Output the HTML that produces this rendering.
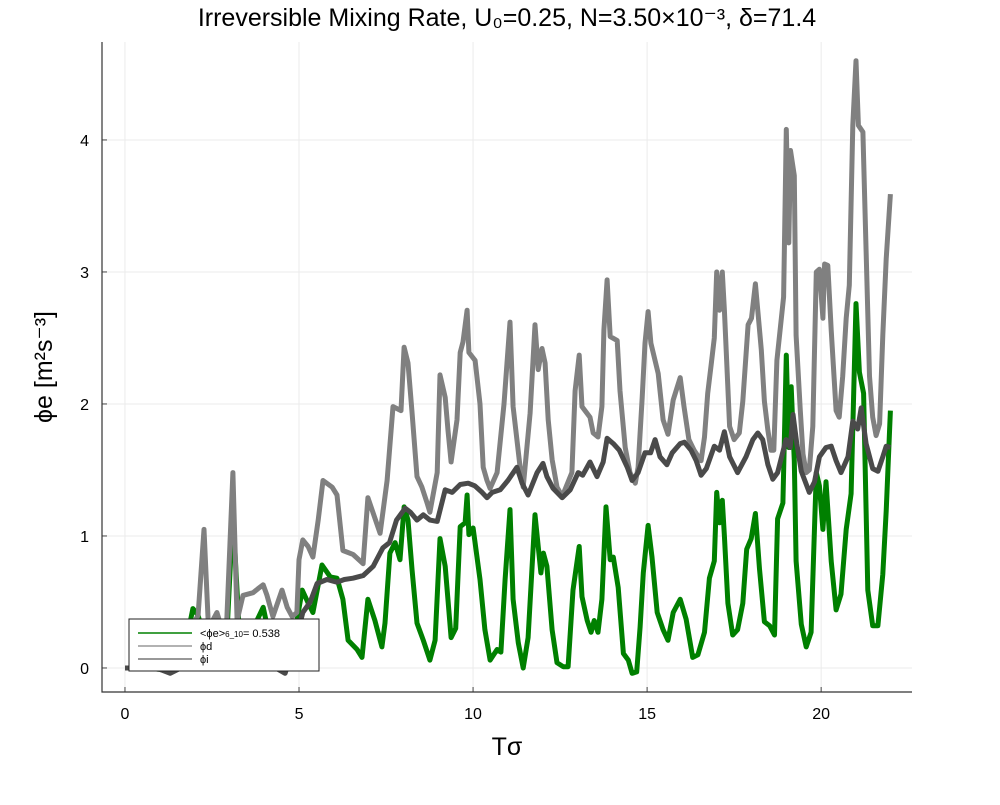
<!DOCTYPE html>
<html><head><meta charset="utf-8"><style>
body{margin:0;background:#fff;}
svg text{font-family:"Liberation Sans","DejaVu Sans",sans-serif;}
</style></head><body>
<svg id="chart" width="1000" height="800" viewBox="0 0 1000 800" xmlns="http://www.w3.org/2000/svg">
<rect width="1000" height="800" fill="#fff"/>
<text x="507" y="26" text-anchor="middle" font-size="25" fill="#000">Irreversible Mixing Rate, U₀=0.25, N=3.50×10⁻³, δ=71.4</text>
<g id="grid"></g>
<g id="series"></g>
<g id="axes"></g>
<text x="507" y="755" text-anchor="middle" font-size="25">Tσ</text>
<text transform="translate(52,367) rotate(-90)" text-anchor="middle" font-size="25">ϕe [m²s⁻³]</text>
<g>
<rect x="129" y="619" width="190" height="52" fill="#fff" stroke="#222" stroke-width="1"/>
<line x1="138" y1="633" x2="192" y2="633" stroke="#008000" stroke-width="1.5"/>
<text x="200" y="637" font-size="11">&lt;ϕe&gt;<tspan font-size="8">6_10</tspan>= 0.538</text>
<line x1="138" y1="646" x2="192" y2="646" stroke="#999" stroke-width="1.5"/>
<text x="200" y="650" font-size="11">ϕd</text>
<line x1="138" y1="659" x2="192" y2="659" stroke="#777" stroke-width="1.5"/>
<text x="200" y="663" font-size="11">ϕi</text>
</g>
</svg>
<script>
const xTicks = [0, 5, 10, 15, 20];
const yTicks = [0, 1, 2, 3, 4];
const tD = [0,0.5,1,1.3,1.6,1.9,2.0,2.1,2.27,2.4,2.64,2.9,3.1,3.22,3.39,3.68,3.82,3.97,4.08,4.25,4.51,4.66,4.8,4.94,5.0,5.11,5.26,5.4,5.55,5.69,5.95,6.09,6.26,6.55,6.84,6.98,7.33,7.53,7.7,7.93,8.02,8.13,8.25,8.39,8.53,8.68,8.76,8.97,9.05,9.2,9.28,9.37,9.54,9.63,9.71,9.83,9.88,10.06,10.2,10.29,10.4,10.49,10.69,10.89,11.06,11.15,11.35,11.44,11.64,11.78,11.87,11.98,12.07,12.16,12.27,12.41,12.56,12.84,12.93,13.05,13.13,13.36,13.45,13.59,13.7,13.76,13.85,13.94,14.14,14.22,14.37,14.51,14.66,14.74,14.86,14.94,15.03,15.11,15.32,15.46,15.6,15.75,15.95,16.06,16.2,16.35,16.55,16.65,16.74,16.84,16.93,17.0,17.08,17.16,17.22,17.37,17.5,17.65,17.75,17.9,18.0,18.11,18.28,18.37,18.47,18.56,18.64,18.73,18.92,19.0,19.07,19.12,19.23,19.28,19.4,19.48,19.57,19.66,19.76,19.86,19.95,20.05,20.1,20.19,20.29,20.43,20.52,20.62,20.72,20.81,20.91,21.0,21.07,21.2,21.29,21.39,21.48,21.58,21.68,21.77,21.87,21.99];
const vD = [0,0,-0.01,-0.03,0,0.05,0.35,0.4,1.05,0.3,0.42,0.2,1.48,0.36,0.55,0.57,0.6,0.63,0.55,0.39,0.59,0.46,0.39,0.42,0.82,0.97,0.92,0.84,1.12,1.42,1.37,1.31,0.89,0.86,0.79,1.29,1.02,1.42,1.98,1.95,2.43,2.31,1.93,1.45,1.37,1.25,1.18,1.48,2.22,2.05,1.8,1.56,1.88,2.39,2.47,2.71,2.39,2.33,2.0,1.52,1.42,1.36,1.48,2.0,2.62,1.98,1.52,1.37,1.93,2.6,2.26,2.42,2.31,1.88,1.58,1.37,1.3,1.48,2.1,2.37,1.98,1.9,1.78,1.75,1.98,2.56,2.94,2.51,2.48,2.1,1.67,1.48,1.4,1.52,2.05,2.46,2.7,2.46,2.23,1.88,1.77,2.03,2.2,1.98,1.73,1.65,1.57,1.75,2.08,2.3,2.5,3.0,2.71,3.0,2.71,1.83,1.73,1.78,2.02,2.6,2.65,2.91,2.41,2.02,1.8,1.65,1.65,2.33,2.81,4.08,3.22,3.92,3.73,2.52,1.95,1.62,1.48,1.5,1.83,3.0,3.02,2.65,3.06,3.05,2.56,1.95,1.9,2.21,2.65,2.9,4.11,4.6,4.11,4.06,3.16,2.21,1.9,1.76,1.85,2.52,3.1,3.59];
const tI = [0,0.5,1,1.3,1.6,2.0,2.5,3.0,3.5,4.0,4.6,4.9,5.11,5.32,5.52,5.8,6.09,6.3,6.55,6.84,7.13,7.41,7.6,7.8,8.05,8.2,8.39,8.57,8.76,8.97,9.2,9.4,9.63,9.86,10.05,10.26,10.4,10.55,10.78,11.0,11.26,11.41,11.58,11.84,12.01,12.12,12.3,12.56,12.79,13.02,13.15,13.36,13.56,13.74,13.85,14.03,14.2,14.43,14.57,14.74,14.94,15.1,15.23,15.37,15.57,15.72,15.95,16.07,16.26,16.41,16.55,16.7,16.93,17.08,17.22,17.37,17.6,17.84,18.04,18.18,18.32,18.47,18.61,18.75,18.99,19.11,19.19,19.3,19.43,19.66,19.81,19.95,20.14,20.29,20.43,20.57,20.77,20.91,21.05,21.15,21.29,21.48,21.63,21.77,21.87,21.99];
const vI = [0,0,-0.01,-0.04,0,0.02,0.0,0.05,0.1,0.05,-0.04,0.2,0.42,0.5,0.64,0.67,0.65,0.67,0.68,0.7,0.77,0.91,0.95,1.12,1.21,1.18,1.12,1.16,1.12,1.11,1.35,1.33,1.39,1.4,1.38,1.33,1.29,1.33,1.35,1.42,1.52,1.4,1.31,1.48,1.55,1.45,1.36,1.29,1.35,1.48,1.46,1.56,1.45,1.56,1.74,1.7,1.65,1.52,1.42,1.48,1.63,1.63,1.73,1.6,1.54,1.63,1.7,1.71,1.65,1.57,1.46,1.51,1.68,1.65,1.79,1.6,1.48,1.6,1.73,1.78,1.73,1.54,1.43,1.48,1.73,1.67,1.92,1.7,1.49,1.33,1.41,1.6,1.67,1.68,1.57,1.48,1.6,1.87,1.81,1.97,1.7,1.51,1.49,1.6,1.68,1.67];
const tE = [0,0.5,1,1.3,1.6,1.95,2.1,2.4,2.64,2.9,3.1,3.3,3.68,3.97,4.1,4.4,4.7,4.9,5.09,5.25,5.4,5.66,5.9,6.09,6.26,6.41,6.67,6.81,6.98,7.18,7.38,7.47,7.61,7.76,7.9,8.02,8.13,8.25,8.39,8.57,8.76,8.91,9.05,9.2,9.37,9.5,9.63,9.77,9.83,9.88,10.0,10.2,10.34,10.49,10.69,10.8,10.92,11.06,11.15,11.3,11.44,11.58,11.78,11.95,12.02,12.12,12.27,12.41,12.59,12.73,12.87,13.05,13.13,13.28,13.39,13.48,13.59,13.7,13.82,13.94,14.03,14.17,14.32,14.46,14.57,14.7,14.8,14.89,15.03,15.14,15.29,15.46,15.6,15.75,15.95,16.12,16.31,16.46,16.65,16.79,16.93,17.0,17.08,17.16,17.22,17.32,17.46,17.6,17.75,17.86,17.99,18.11,18.23,18.37,18.52,18.66,18.75,18.9,19.0,19.07,19.14,19.23,19.28,19.43,19.57,19.71,19.86,19.95,20.05,20.14,20.29,20.43,20.57,20.72,20.86,21.0,21.1,21.22,21.34,21.48,21.63,21.77,21.87,21.99];
const vE = [0,0,-0.01,-0.03,0,0.45,0.4,0.1,0.3,0.1,1.17,0.2,0.3,0.46,0.3,0.2,0.1,0.3,0.59,0.5,0.42,0.78,0.69,0.68,0.52,0.21,0.14,0.08,0.52,0.36,0.16,0.34,0.87,0.95,0.82,1.22,1.12,0.74,0.34,0.21,0.06,0.21,0.98,0.77,0.23,0.3,1.07,1.1,1.31,1.01,1.06,0.67,0.29,0.06,0.14,0.12,0.67,1.2,0.52,0.19,0.0,0.23,1.16,0.72,0.87,0.77,0.29,0.04,0.01,0.01,0.59,0.92,0.54,0.36,0.27,0.36,0.27,0.52,1.22,0.82,0.84,0.61,0.11,0.06,-0.04,-0.03,0.31,0.72,1.08,0.84,0.42,0.29,0.21,0.42,0.52,0.37,0.08,0.1,0.27,0.68,0.81,1.33,1.1,1.27,1.0,0.49,0.25,0.29,0.49,0.9,0.98,1.17,0.75,0.35,0.32,0.25,1.13,1.25,2.37,1.67,2.13,1.57,0.81,0.33,0.16,0.27,1.48,1.38,1.05,1.41,0.81,0.44,0.56,1.05,1.32,2.76,2.24,2.08,0.59,0.32,0.32,0.71,1.19,1.95];

const X0 = 102, X1 = 912, Y0 = 692, Y1 = 42;
const xMin = -0.66, xMax = 22.61, yMin = -0.182, yMax = 4.742;
function sx(v){ return X0 + (v - xMin) / (xMax - xMin) * (X1 - X0); }
function sy(v){ return Y0 - (v - yMin) / (yMax - yMin) * (Y0 - Y1); }
const NS = 'http://www.w3.org/2000/svg';
function mk(tag, parent){ const e = document.createElementNS(NS, tag); parent.appendChild(e); return e; }

const grid = document.getElementById('grid');
const axes = document.getElementById('axes');
xTicks.forEach(t => {
  const g = mk('line', grid);
  g.setAttribute('x1', sx(t)); g.setAttribute('x2', sx(t)); g.setAttribute('y1', Y1); g.setAttribute('y2', Y0);
  g.setAttribute('stroke', '#ebebeb'); g.setAttribute('stroke-width', '1');
  
  
  const tk = mk('line', axes);
  tk.setAttribute('x1', sx(t)); tk.setAttribute('x2', sx(t)); tk.setAttribute('y1', Y0); tk.setAttribute('y2', Y0 - 5);
  tk.setAttribute('stroke', '#444');
  
  
  const tx = mk('text', axes);
  tx.setAttribute('x', sx(t)); tx.setAttribute('y', 719); tx.setAttribute('text-anchor', 'middle'); tx.setAttribute('font-size', '16');
  tx.textContent = t;
  
  
});
yTicks.forEach(t => {
  const g = mk('line', grid);
  g.setAttribute('x1', X0); g.setAttribute('x2', X1); g.setAttribute('y1', sy(t)); g.setAttribute('y2', sy(t));
  g.setAttribute('stroke', '#ebebeb'); g.setAttribute('stroke-width', '1');
  
  
  const tk = mk('line', axes);
  tk.setAttribute('x1', X0); tk.setAttribute('x2', X0 + 5); tk.setAttribute('y1', sy(t)); tk.setAttribute('y2', sy(t));
  tk.setAttribute('stroke', '#444');
  
  
  const tx = mk('text', axes);
  tx.setAttribute('x', 89); tx.setAttribute('y', sy(t) + 6); tx.setAttribute('text-anchor', 'end'); tx.setAttribute('font-size', '16');
  tx.textContent = t;
  
  
});
const ax = mk('path', axes);
ax.setAttribute('d', `M${X0},${Y1} L${X0},${Y0} L${X1},${Y0}`);
ax.setAttribute('fill', 'none'); ax.setAttribute('stroke', '#333'); ax.setAttribute('stroke-width', '1.2');



const series = document.getElementById('series');
function drawLine(ts, vs, color, name){
  const p = mk('path', series);
  p.setAttribute('d', ts.map((t, i) => (i ? 'L' : 'M') + sx(t).toFixed(1) + ',' + sy(vs[i]).toFixed(1)).join(' '));
  p.setAttribute('fill', 'none'); p.setAttribute('stroke', color); p.setAttribute('stroke-width', '5');
  p.setAttribute('stroke-linejoin', 'round');
  
  
}
drawLine(tE, vE, '#008000', 'line-phie');
drawLine(tD, vD, '#808080', 'line-phid');
drawLine(tI, vI, '#4a4a4a', 'line-phii');
</script>
</body></html>
